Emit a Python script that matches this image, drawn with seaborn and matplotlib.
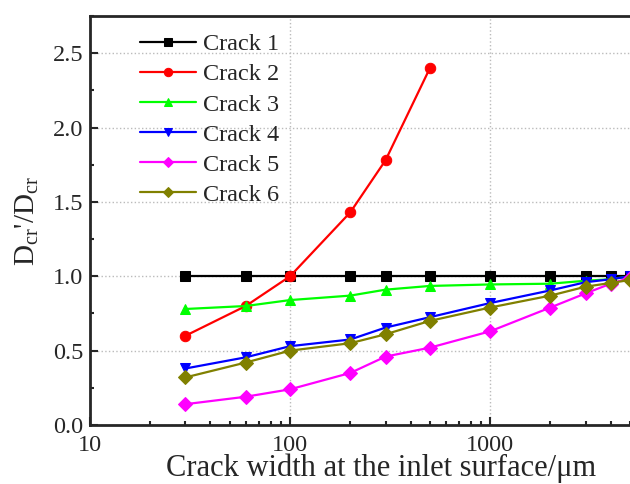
import seaborn as sns
import matplotlib.pyplot as plt
import matplotlib.ticker as mticker
import pandas as pd

# crack width at the inlet surface (um)
widths = [30, 60, 100, 200, 300, 500, 1000, 2000, 3000, 4000, 5000]

crack1 = [1.00, 1.00, 1.00, 1.00, 1.00, 1.00, 1.00, 1.00, 1.00, 1.00, 1.00]
crack2 = [0.60, 0.80, 1.00, 1.43, 1.78, 2.40]
crack3 = [0.78, 0.80, 0.84, 0.87, 0.91, 0.935, 0.945, 0.95, 0.97, 0.98, 1.00]
crack4 = [0.38, 0.455, 0.53, 0.575, 0.655, 0.725, 0.82, 0.905, 0.96, 0.98, 1.00]
crack5 = [0.14, 0.19, 0.24, 0.35, 0.46, 0.52, 0.63, 0.79, 0.885, 0.95, 0.99]
crack6 = [0.32, 0.42, 0.50, 0.55, 0.61, 0.70, 0.79, 0.87, 0.93, 0.955, 0.975]

names = ["Crack 1", "Crack 2", "Crack 3", "Crack 4", "Crack 5", "Crack 6"]
series = [crack1, crack2, crack3, crack4, crack5, crack6]
colors = ["black", "red", "#00ff00", "blue", "magenta", "#808000"]
markers = ["s", "o", "^", "v", "D", "D"]

rows = []
for name, vals in zip(names, series):
    for w, v in zip(widths, vals):
        rows.append({"width": w, "ratio": v, "crack": name})
df = pd.DataFrame(rows)

sns.set_style("ticks")
plt.rcParams["font.family"] = ["Liberation Serif", "DejaVu Serif"]
plt.rcParams["mathtext.fontset"] = "custom"
plt.rcParams["mathtext.rm"] = "Liberation Serif"
plt.rcParams["mathtext.it"] = "Liberation Serif:italic"

fig = plt.figure(figsize=(6.3, 4.84), dpi=100)
ax = fig.add_axes([90 / 630, 59 / 484, 540 / 630, 409 / 484])

for name, c, m in zip(names, colors, markers):
    ms = 7 if m == "D" else 7.5
    sns.lineplot(data=df[df["crack"] == name], x="width", y="ratio", ax=ax,
                 color=c, marker=m, markersize=ms, markeredgecolor=c,
                 linewidth=1.6, label=name, legend=False)

ax.set_xscale("log")
ax.set_xlim(10, 5000)
ax.set_ylim(0, 2.75)
ax.yaxis.set_major_locator(mticker.MultipleLocator(0.5))
ax.yaxis.set_minor_locator(mticker.MultipleLocator(0.25))
ax.yaxis.set_major_formatter(mticker.FormatStrFormatter("%.1f"))
ax.xaxis.set_major_formatter(mticker.FuncFormatter(lambda v, p: f"{v:g}"))
ax.xaxis.set_minor_formatter(mticker.NullFormatter())

ax.grid(True, which="major", linestyle=":", color="#bbbbbb", linewidth=1)
ax.tick_params(which="both", direction="in", labelsize=17.5, width=1.5)
ax.tick_params(which="major", length=6)
ax.tick_params(which="minor", length=3)
ax.tick_params(axis="x", pad=7)
ax.tick_params(axis="y", pad=5)
ax.spines["right"].set_visible(False)
for s in ["left", "bottom", "top"]:
    ax.spines[s].set_linewidth(2)

ax.set_xlabel("Crack width at the inlet surface/\u03bcm", fontsize=22)
ax.xaxis.set_label_coords(0.539, -0.07)
ax.set_ylabel("D$_\\mathregular{cr}$'/D$_\\mathregular{cr}$", fontsize=21, labelpad=8)

ax.legend(loc="upper left", bbox_to_anchor=(0.065, 0.993), frameon=False,
          fontsize=17.5, handlelength=2.3, handletextpad=0.3,
          labelspacing=0.33, borderaxespad=0.2, markerscale=0.8)

plt.savefig("out.png", dpi=100)
